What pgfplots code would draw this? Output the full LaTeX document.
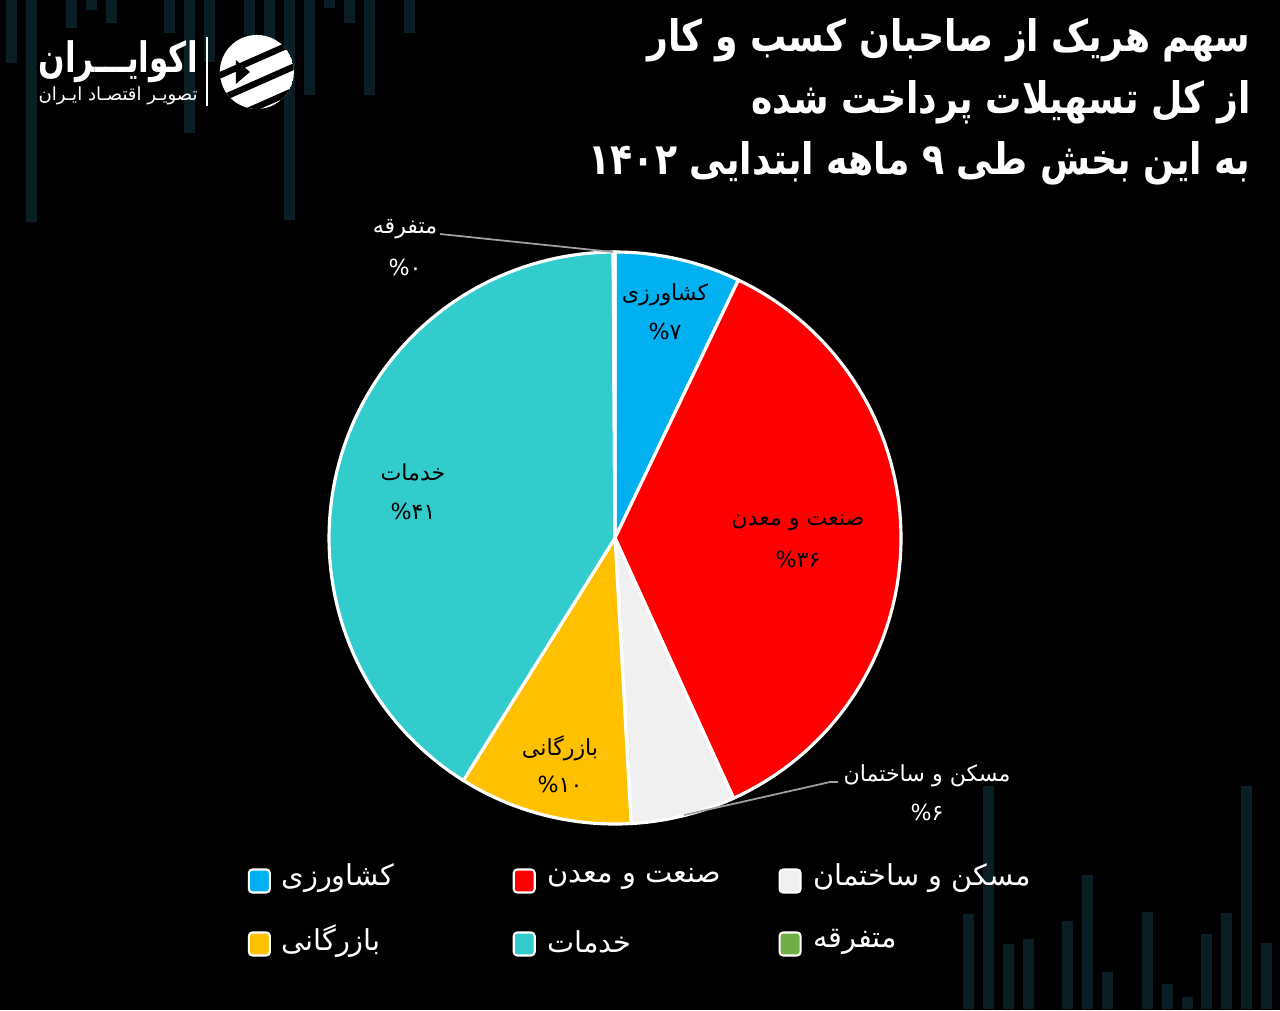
\documentclass[border=0pt]{standalone}
\usepackage{pgfplots}
\pgfplotsset{compat=1.18}
\usepackage{pgfplotstable}
\usepackage{fontspec}
\setmainfont{DejaVu Sans}
\newfontfamily\fa[Script=Arabic]{DejaVu Sans}
\TeXXeTstate=1
\definecolor{cAgri}{HTML}{00B0F0}
\definecolor{cInd}{HTML}{FF0000}
\definecolor{cHouse}{HTML}{F0F0F0}
\definecolor{cTrade}{HTML}{FFC000}
\definecolor{cServ}{HTML}{33CCCC}
\definecolor{cMisc}{HTML}{70AD47}
\definecolor{bgbar}{RGB}{10,30,38}
\definecolor{leader}{HTML}{A0A0A0}

% share of each sector (percent), clockwise from 12 o'clock
\pgfplotstableread{
id value
1 7.1
2 36.1
3 5.9
4 9.8
5 41.0
6 0.1
}\piedata

\begin{document}%
\begin{tikzpicture}
\pgfplotstablegetelem{0}{value}\of\piedata
\pgfmathsetmacro\aA{-90+3.6*\pgfplotsretval}
\pgfplotstablegetelem{1}{value}\of\piedata
\pgfmathsetmacro\aB{\aA+3.6*\pgfplotsretval}
\pgfplotstablegetelem{2}{value}\of\piedata
\pgfmathsetmacro\aC{\aB+3.6*\pgfplotsretval}
\pgfplotstablegetelem{3}{value}\of\piedata
\pgfmathsetmacro\aD{\aC+3.6*\pgfplotsretval}
\pgfplotstablegetelem{4}{value}\of\piedata
\pgfmathsetmacro\aE{\aD+3.6*\pgfplotsretval}
\pgfplotstablegetelem{5}{value}\of\piedata
\pgfmathsetmacro\aF{\aE+3.6*\pgfplotsretval}
\fill[black] (0,0) rectangle (12.8,10.1);
\begin{scope}[shift={(0,10.1)}, x=0.01cm, y=-0.01cm]
% decorative background bars
\foreach \x/\b in {12/63,32/222,72/28,92/10,112/23,170/33,190/133,210/62,250/35,270/40,290/220,310/95,330/8,350/23,370/95,410/33}{
  \fill[bgbar] (\x-5.5,0) rectangle (\x+5.5,\b);
}
\foreach \x/\t in {969/915,989/786,1009/945,1029/940,1068/922,1088/875,1108/973,1148/913,1168/985,1188/998,1207/935,1227/914,1247/786,1267/944}{
  \fill[bgbar] (\x-5.5,\t) rectangle (\x+5.5,1010);
}
\end{scope}
\begin{axis}[at={(0,0)}, anchor=south west, scale only axis,
  width=12.8cm, height=10.1cm, xmin=0, xmax=1280, ymin=0, ymax=1010,
  y dir=reverse, hide axis, clip=false]
% pie slices
\addplot[fill=cAgri, draw=white, line width=0.9pt, line join=round, domain=-90:\aA, samples=30]
  ({615+286*cos(x)},{538+286*sin(x)}) -- (axis cs:615,538) -- cycle;
\addplot[fill=cInd, draw=white, line width=0.9pt, line join=round, domain=\aA:\aB, samples=80]
  ({615+286*cos(x)},{538+286*sin(x)}) -- (axis cs:615,538) -- cycle;
\addplot[fill=cHouse, draw=white, line width=0.9pt, line join=round, domain=\aB:\aC, samples=20]
  ({615+286*cos(x)},{538+286*sin(x)}) -- (axis cs:615,538) -- cycle;
\addplot[fill=cTrade, draw=white, line width=0.9pt, line join=round, domain=\aC:\aD, samples=30]
  ({615+286*cos(x)},{538+286*sin(x)}) -- (axis cs:615,538) -- cycle;
\addplot[fill=cServ, draw=white, line width=0.9pt, line join=round, domain=\aD:\aE, samples=90]
  ({615+286*cos(x)},{538+286*sin(x)}) -- (axis cs:615,538) -- cycle;
\addplot[fill=cMisc, draw=white, line width=0.9pt, line join=round, domain=\aE:\aF, samples=2]
  ({615+286*cos(x)},{538+286*sin(x)}) -- (axis cs:615,538) -- cycle;
% slice labels
\node[font=\fa\fontsize{6.3}{8}\selectfont, text=black, inner sep=0pt] at (axis cs:665,295) {\beginR کشاورزی\endR};
\node[font=\fa\fontsize{6.3}{8}\selectfont, text=black, inner sep=0pt] at (axis cs:665,331) {\%۷};
\node[font=\fa\fontsize{6.3}{8}\selectfont, text=black, inner sep=0pt] at (axis cs:798,523) {\beginR صنعت و معدن\endR};
\node[font=\fa\fontsize{6.3}{8}\selectfont, text=black, inner sep=0pt] at (axis cs:798,559) {\%۳۶};
\node[font=\fa\fontsize{6.3}{8}\selectfont, text=black, inner sep=0pt] at (axis cs:413,472) {\beginR خدمات\endR};
\node[font=\fa\fontsize{6.3}{8}\selectfont, text=black, inner sep=0pt] at (axis cs:413,511) {\%۴۱};
\node[font=\fa\fontsize{6.3}{8}\selectfont, text=black, inner sep=0pt] at (axis cs:560,748) {\beginR بازرگانی\endR};
\node[font=\fa\fontsize{6.3}{8}\selectfont, text=black, inner sep=0pt] at (axis cs:560,784) {\%۱۰};
\node[font=\fa\fontsize{6.3}{8}\selectfont, text=white, inner sep=0pt] at (axis cs:405,229) {\beginR متفرقه\endR};
\node[font=\fa\fontsize{6.3}{8}\selectfont, text=white, inner sep=0pt] at (axis cs:405,267) {\%۰};
\node[font=\fa\fontsize{6.3}{8}\selectfont, text=white, inner sep=0pt] at (axis cs:927,776) {\beginR مسکن و ساختمان\endR};
\node[font=\fa\fontsize{6.3}{8}\selectfont, text=white, inner sep=0pt] at (axis cs:927,812) {\%۶};
\draw[leader, line width=0.5pt] (axis cs:440,234) -- (axis cs:613,252);
\draw[leader, line width=0.5pt] (axis cs:838,782) -- (axis cs:830,782) -- (axis cs:684,815);
\end{axis}
\begin{scope}[shift={(0,10.1)}, x=0.01cm, y=-0.01cm]
% title
\tikzset{ttl/.style={anchor=east, font=\fa\bfseries\fontsize{10.3}{12}\selectfont, text=white, inner sep=0pt}}
\node[ttl] at (1252,40) {\scalebox{1}[1.2]{\beginR سهم هریک از صاحبان کسب و کار\endR}};
\node[ttl] at (1252,102) {\scalebox{1}[1.2]{\beginR از کل تسهیلات پرداخت شده\endR}};
\node[ttl] at (1252,163) {\scalebox{1}[1.2]{\beginR به این بخش طی ۹ ماهه ابتدایی \beginL۱۴۰۲\endL{}\endR}};
% legend
\foreach \xs/\ys/\c in {249/870/cAgri,514/870/cInd,780/870/cHouse,249/933/cTrade,514/933/cServ,780/933/cMisc}{
  \draw[white, line width=0.6pt, fill=\c, rounded corners=1pt] (\xs,\ys) rectangle (\xs+21,\ys+23);
}
\tikzset{legtxt/.style={anchor=west, font=\fa\fontsize{8.2}{10}\selectfont, text=white, inner sep=0pt}}
\node[legtxt] at (281,879) {\beginR کشاورزی\endR};
\node[legtxt] at (547,879) {\beginR صنعت و معدن\endR};
\node[legtxt] at (813,879) {\beginR مسکن و ساختمان\endR};
\node[legtxt] at (281,942) {\beginR بازرگانی\endR};
\node[legtxt] at (547,942) {\beginR خدمات\endR};
\node[legtxt] at (813,942) {\beginR متفرقه\endR};
% logo
\node[anchor=west, font=\fa\bfseries\fontsize{12}{14}\selectfont, text=white, inner sep=0pt] at (38,62) {\scalebox{1}[1.35]{\resizebox{1.59cm}{!}{\beginR اکوایـــران\endR}}};
\node[anchor=west, font=\fa\fontsize{6}{7}\selectfont, text=white, inner sep=0pt] at (38,96) {\resizebox{1.59cm}{!}{\beginR تصویـر اقتصـاد ایـران\endR}};
\draw[white, line width=0.5pt] (207,37) -- (207,106);
\begin{scope}
\clip (257,72) circle[radius=0.37cm];
\fill[white] (257,72) circle[radius=0.37cm];
\draw[black, line width=1.8pt] (205,82) -- (300,40);
\draw[black, line width=1.8pt] (205,106) -- (300,64);
\draw[black, line width=1.8pt] (205,130) -- (300,88);
\fill[black] (236,60) -- (250,72) -- (236,84) -- cycle;
\end{scope}
\end{scope}
\pgfresetboundingbox
\useasboundingbox (0,0) rectangle (12.8,10.1);
\end{tikzpicture}%
\end{document}
